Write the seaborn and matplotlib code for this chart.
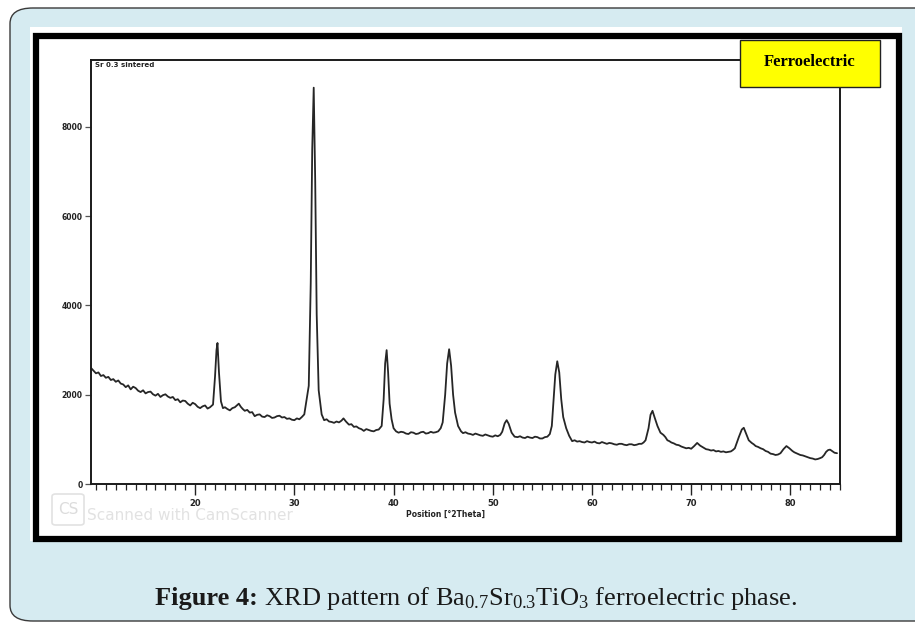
import numpy as np
import pandas as pd
import matplotlib
matplotlib.use("Agg")
import matplotlib.pyplot as plt
from matplotlib.patches import FancyBboxPatch, Rectangle
from matplotlib.ticker import MultipleLocator
import seaborn as sns

two_theta = [
    9.5, 9.75, 10.0, 10.25, 10.5, 10.75, 11.0, 11.25, 11.5, 11.75,
    12.0, 12.25, 12.5, 12.75, 13.0, 13.25, 13.5, 13.75, 14.0, 14.25,
    14.5, 14.75, 15.0, 15.25, 15.5, 15.75, 16.0, 16.25, 16.5, 16.75,
    17.0, 17.25, 17.5, 17.75, 18.0, 18.25, 18.5, 18.75, 19.0, 19.25,
    19.5, 19.75, 20.0, 20.25, 20.5, 20.75, 21.0, 21.25, 21.5, 21.8,
    22.0, 22.15, 22.25, 22.4, 22.6, 22.8, 23.0, 23.25, 23.5, 23.75,
    24.0, 24.2, 24.4, 24.6, 24.8, 25.0, 25.25, 25.5, 25.75, 26.0,
    26.25, 26.5, 26.75, 27.0, 27.25, 27.5, 27.75, 28.0, 28.25, 28.5,
    28.75, 29.0, 29.25, 29.5, 29.75, 30.0, 30.25, 30.5, 30.75, 31.0,
    31.45, 31.65, 31.8, 31.95, 32.1, 32.25, 32.45, 32.75, 33.0, 33.25,
    33.5, 33.75, 34.0, 34.25, 34.5, 34.75, 34.95, 35.2, 35.5, 35.75,
    36.0, 36.25, 36.5, 36.75, 37.0, 37.25, 37.5, 37.75, 38.0, 38.25,
    38.5, 38.8, 39.0, 39.15, 39.3, 39.45, 39.6, 39.8, 40.0, 40.25,
    40.5, 40.75, 41.0, 41.25, 41.5, 41.75, 42.0, 42.25, 42.5, 42.75,
    43.0, 43.25, 43.5, 43.75, 44.0, 44.25, 44.5, 44.75, 44.95, 45.2,
    45.4, 45.6, 45.8, 46.0, 46.2, 46.5, 46.8, 47.0, 47.25, 47.5,
    47.75, 48.0, 48.25, 48.5, 48.75, 49.0, 49.25, 49.5, 49.75, 50.0,
    50.25, 50.5, 50.75, 50.95, 51.2, 51.4, 51.6, 51.9, 52.2, 52.5,
    52.75, 53.0, 53.25, 53.5, 53.75, 54.0, 54.25, 54.5, 54.75, 55.0,
    55.25, 55.5, 55.75, 55.95, 56.1, 56.3, 56.5, 56.7, 56.9, 57.1,
    57.4, 57.7, 58.0, 58.25, 58.5, 58.75, 59.0, 59.25, 59.5, 59.75,
    60.0, 60.25, 60.5, 60.75, 61.0, 61.25, 61.5, 61.75, 62.0, 62.25,
    62.5, 62.75, 63.0, 63.25, 63.5, 63.75, 64.0, 64.25, 64.5, 64.75,
    65.0, 65.2, 65.4, 65.7, 65.9, 66.1, 66.3, 66.6, 66.9, 67.2,
    67.4, 67.6, 67.8, 68.0, 68.25, 68.5, 68.75, 69.0, 69.25, 69.5,
    69.75, 70.0, 70.3, 70.6, 70.9, 71.2, 71.5, 71.75, 72.0, 72.25,
    72.5, 72.75, 73.0, 73.25, 73.5, 73.75, 74.0, 74.2, 74.4, 74.8,
    75.1, 75.3, 75.5, 75.8, 76.1, 76.3, 76.5, 76.75, 77.0, 77.25,
    77.5, 77.75, 78.0, 78.25, 78.5, 78.75, 79.0, 79.3, 79.6, 79.9,
    80.2, 80.4, 80.6, 80.8, 81.0, 81.25, 81.5, 81.75, 82.0, 82.25,
    82.5, 82.75, 83.0, 83.2, 83.4, 83.6, 83.8, 84.0, 84.2, 84.45,
    84.7,
]
counts = [
    2600, 2540, 2480, 2500, 2420, 2440, 2380, 2400, 2330, 2350,
    2290, 2320, 2250, 2230, 2170, 2210, 2120, 2180, 2150, 2090,
    2060, 2100, 2030, 2060, 2070, 2010, 1980, 2020, 1950, 1990,
    2010, 1960, 1930, 1950, 1880, 1900, 1830, 1870, 1860, 1800,
    1760, 1820, 1790, 1730, 1700, 1740, 1760, 1690, 1720, 1780,
    2400, 3000, 3160, 2500, 1850, 1700, 1720, 1680, 1650, 1700,
    1720, 1760, 1800, 1730, 1680, 1640, 1660, 1600, 1610, 1520,
    1550, 1560, 1510, 1500, 1540, 1520, 1480, 1490, 1520, 1530,
    1490, 1500, 1460, 1470, 1440, 1430, 1470, 1450, 1500, 1560,
    2200, 4500, 7500, 8880, 6800, 3800, 2100, 1560, 1430, 1450,
    1400, 1390, 1370, 1400, 1380, 1420, 1470, 1400, 1330, 1340,
    1280, 1290, 1250, 1230, 1190, 1230, 1210, 1190, 1180, 1210,
    1220, 1300, 1900, 2700, 3000, 2500, 1800, 1450, 1250, 1180,
    1150, 1170, 1160, 1130, 1120, 1160, 1150, 1120, 1130, 1160,
    1170, 1130, 1140, 1170, 1150, 1160, 1180, 1250, 1380, 2000,
    2700, 3020, 2650, 2000, 1600, 1300, 1180, 1140, 1160, 1130,
    1120, 1100, 1130, 1110, 1090, 1080, 1110, 1090, 1070, 1060,
    1090, 1070, 1100, 1170, 1360, 1430, 1350, 1150, 1060, 1050,
    1070, 1040, 1030, 1060, 1040, 1030, 1060, 1050, 1020, 1020,
    1050, 1060, 1120, 1300, 1800, 2450, 2750, 2500, 1900, 1500,
    1250, 1080, 960, 980, 950, 960, 940, 930, 960, 940,
    930, 950, 920, 910, 940, 920, 900, 920, 910, 890,
    880, 900, 900, 880, 870, 890, 890, 870, 880, 900,
    900, 930, 980, 1250, 1550, 1640, 1500, 1300, 1150, 1100,
    1050, 980, 960, 930, 910, 880, 870, 840, 820, 800,
    810, 790, 850, 920, 860, 820, 780, 770, 750, 760,
    730, 740, 720, 730, 710, 720, 730, 760, 800, 1050,
    1220, 1260, 1150, 980, 920, 890, 850, 830, 800, 780,
    740, 720, 680, 670, 650, 660, 690, 780, 850, 800,
    740, 710, 690, 670, 650, 640, 620, 600, 580, 570,
    550, 560, 580, 600, 650, 720, 760, 770, 740, 700,
    690,
]
x_ticks = [20, 30, 40, 50, 60, 70, 80]
x_tick_labels = ["20", "30", "40", "50", "60", "70", "80"]
y_ticks = [0, 2000, 4000, 6000, 8000]
y_tick_labels = ["0", "2000", "4000", "6000", "8000"]

sample_label = "Sr 0.3 sintered"
x_label = "Position [°2Theta]"
badge_text = "Ferroelectric"
caption_bold = "Figure 4:"
caption_rest = r"XRD pattern of Ba$_{0.7}$Sr$_{0.3}$TiO$_{3}$ ferroelectric phase."

df = pd.DataFrame({"two_theta": two_theta, "counts": counts})

# ---------------- figure ----------------
sns.set_theme(style="white")
plt.rcParams["font.family"] = ["DejaVu Sans"]
plt.rcParams["mathtext.fontset"] = "custom"
plt.rcParams["mathtext.rm"] = "Liberation Serif"
plt.rcParams["mathtext.it"] = "Liberation Serif:italic"
plt.rcParams["mathtext.bf"] = "Liberation Serif:bold"

W, H = 915, 626
fig = plt.figure(figsize=(W / 100, H / 100), dpi=100)
fig.patch.set_facecolor("white")

def fx(px):
    return px / W

def fy(py):
    return 1 - py / H

# card background
card = FancyBboxPatch((fx(10), fy(621)), fx(940) - fx(10), fy(8) - fy(621),
                      boxstyle="round,pad=0,rounding_size=0.025",
                      transform=fig.transFigure, facecolor="#d6ebf1",
                      edgecolor="#3a3a3a", linewidth=1.0, zorder=0)
fig.patches.append(card)
# white scan area with black frame
fig.patches.append(Rectangle((fx(30), fy(541)), fx(902) - fx(30), fy(27) - fy(541),
                             transform=fig.transFigure, facecolor="white",
                             edgecolor="none", zorder=0.5))
fig.patches.append(Rectangle((fx(36), fy(539)), fx(899) - fx(36), fy(36) - fy(539),
                             transform=fig.transFigure, facecolor="none",
                             edgecolor="black", linewidth=4.5, zorder=0.6))

# axes
ax = fig.add_axes([fx(91), fy(484), fx(840) - fx(91), fy(60) - fy(484)])
ax.set_zorder(2)
ax.set_facecolor("white")
sns.lineplot(data=df, x="two_theta", y="counts", ax=ax, color="#262626",
             linewidth=1.3, estimator=None, sort=False)
ax.set_xlim(9.5, 85.0)
ax.set_ylim(0, 9500)
ax.set_xticks(x_ticks)
ax.set_xticklabels(x_tick_labels, fontsize=6, fontweight="bold", color="#222222")
ax.xaxis.set_minor_locator(MultipleLocator(1))
ax.set_yticks(y_ticks)
ax.set_yticklabels(y_tick_labels, fontsize=5.5, fontweight="bold", color="#222222")
ax.tick_params(axis="x", which="major", direction="out", length=8, width=1.0,
               color="#222222", pad=3, bottom=True)
ax.tick_params(axis="x", which="minor", direction="out", length=4, width=0.9,
               color="#222222", bottom=True)
ax.tick_params(axis="y", which="major", direction="out", length=4, width=0.9,
               color="#555555", pad=2, left=True)
ax.set_xlabel("")
ax.set_ylabel("")
for side in ["left", "bottom", "top", "right"]:
    ax.spines[side].set_visible(True)
    ax.spines[side].set_color("#1a1a1a")
    ax.spines[side].set_linewidth(1.4)
ax.grid(False)

ax.text(0.006, 0.995, sample_label, transform=ax.transAxes, ha="left", va="top",
        fontsize=5, fontweight="bold", color="#222222")
fig.text(fx(445), fy(514), x_label, ha="center", va="center", fontsize=5.5,
         fontweight="bold", color="#222222", zorder=3)

# scanner watermark (faint, part of the scanned image)
fig.patches.append(FancyBboxPatch((fx(52), fy(525)), fx(84) - fx(52), fy(494) - fy(525),
                                  boxstyle="round,pad=0,rounding_size=0.004",
                                  transform=fig.transFigure, facecolor="none",
                                  edgecolor="#e2e2e2", linewidth=1.2, zorder=1))
fig.text(fx(68), fy(510), "CS", ha="center", va="center", fontsize=11,
         color="#dcdcdc", zorder=1)
fig.text(fx(87), fy(515), "Scanned with CamScanner", ha="left", va="center",
         fontsize=11, color="#e2e2e2", zorder=1)

# yellow badge
fig.patches.append(Rectangle((fx(740), fy(87)), fx(880) - fx(740), fy(40) - fy(87),
                             transform=fig.transFigure, facecolor="#ffff00",
                             edgecolor="#222222", linewidth=1.0, zorder=5))
fig.text(fx(810), fy(62), badge_text, ha="center", va="center", fontsize=12,
         fontweight="bold", family="Liberation Serif", color="black", zorder=6)

# caption
fig.canvas.draw()
r = fig.canvas.get_renderer()
t1 = fig.text(fx(157), fy(605), caption_bold, ha="left", va="baseline", fontsize=19,
              fontweight="bold", family="Liberation Serif", color="#1a1a1a")
t2 = fig.text(0, fy(605), " " + caption_rest, ha="left", va="baseline", fontsize=19,
              family="Liberation Serif", color="#1a1a1a")
fig.canvas.draw()
b1 = t1.get_window_extent(r)
b2 = t2.get_window_extent(r)
total = b1.width + b2.width
start = 476 - total / 2
t1.set_x(start / W)
t2.set_x((start + b1.width) / W)

fig.savefig("out.png", dpi=100, facecolor=fig.get_facecolor())
